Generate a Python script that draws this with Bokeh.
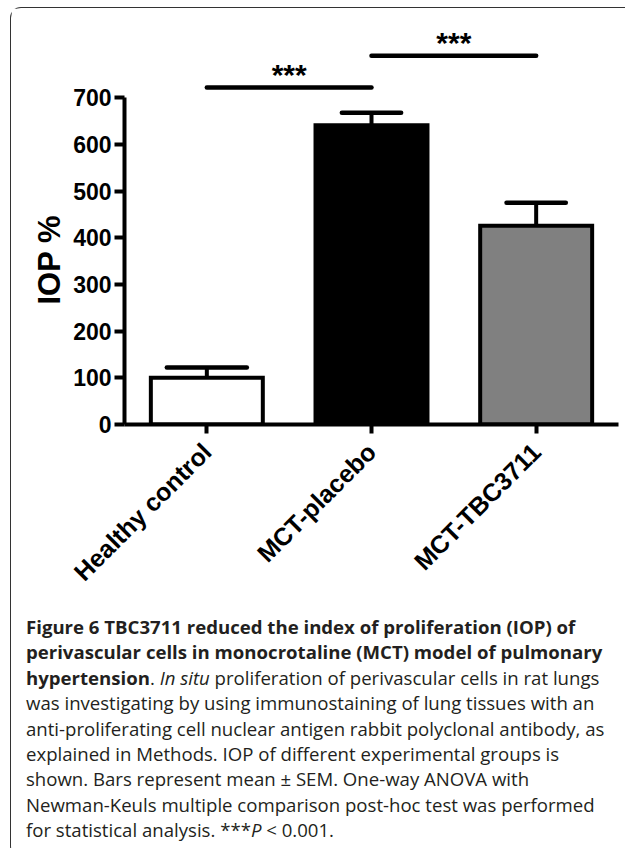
import math
from bokeh.plotting import figure
from bokeh.models import FactorRange, Range1d, Div, FixedTicker, ColumnDataSource, Title
from bokeh.layouts import column
from bokeh.embed import file_html
from bokeh.resources import INLINE
from bokeh.core.properties import value

# ---------------- data ----------------
categories = ["Healthy control", "MCT-placebo", "MCT-TBC3711"]
iop_mean = [100, 641, 426]
iop_sem = [22, 27, 49]
y_ticks = [0, 100, 200, 300, 400, 500, 600, 700]
sig_from = ["Healthy control", "MCT-placebo"]
sig_to = ["MCT-placebo", "MCT-TBC3711"]
sig_level = [722, 790]
sig_text = ["***", "***"]
y_label = "IOP %"

caption_lines = [
    "<b>Figure 6 TBC3711 reduced the index of proliferation (IOP) of</b>",
    "<b>perivascular cells in monocrotaline (MCT) model of pulmonary</b>",
    "<b>hypertension</b>. <i>In situ</i> proliferation of perivascular cells in rat lungs",
    "was investigating by using immunostaining of lung tissues with an",
    "anti-proliferating cell nuclear antigen rabbit polyclonal antibody, as",
    "explained in Methods. IOP of different experimental groups is",
    "shown. Bars represent mean \u00b1 SEM. One-way ANOVA with",
    "Newman-Keuls multiple comparison post-hoc test was performed",
    "for statistical analysis. ***<i>P</i> &lt; 0.001.",
]

# ---------------- styles ----------------
bar_fills = ["#ffffff", "#000000", "#808080"]
cap_half = [0.243, 0.18, 0.18]
FONT = "Liberation Sans"

p = figure(
    x_range=FactorRange(*categories, range_padding=0),
    y_range=Range1d(0, 870),
    frame_width=494, frame_height=406,
    min_border_left=113, min_border_right=6, min_border_top=10, min_border_bottom=185,
    output_backend="svg", toolbar_location=None,
)
p.outline_line_color = None
p.xgrid.visible = False
p.ygrid.visible = False
p.background_fill_color = "white"
p.border_fill_color = "white"

idx = [categories.index(c) + 0.5 for c in categories]
tops = [m + s for m, s in zip(iop_mean, iop_sem)]
src = ColumnDataSource(dict(cat=categories, mean=iop_mean, top=tops, fill=bar_fills,
                            cx0=[i - h for i, h in zip(idx, cap_half)],
                            cx1=[i + h for i, h in zip(idx, cap_half)]))

p.segment(x0="cat", y0="mean", x1="cat", y1="top", source=src, line_color="black", line_width=4)
p.segment(x0="cx0", y0="top", x1="cx1", y1="top", source=src, line_color="black",
          line_width=4.5, line_cap="round")
p.vbar(x="cat", top="mean", width=0.68, source=src, fill_color="fill",
       line_color="black", line_width=4, line_join="miter")

mid = [(categories.index(a) + categories.index(b)) / 2 + 0.5 for a, b in zip(sig_from, sig_to)]
p.segment(x0=sig_from, x1=sig_to, y0=sig_level, y1=sig_level, line_color="black",
          line_width=4.5, line_cap="round")
p.text(x=mid, y=sig_level, text=sig_text, text_align="center", text_baseline="alphabetic",
       y_offset=-13, text_font=value(FONT), text_font_style="bold", text_font_size="30px",
       text_color="black")

ya = p.yaxis[0]
ya.bounds = (0, 700)
ya.ticker = FixedTicker(ticks=y_ticks)
ya.axis_line_width = 4
ya.major_tick_line_width = 4
ya.major_tick_out = 10
ya.major_tick_in = 0
ya.minor_tick_line_color = None
ya.major_label_standoff = 3
ya.major_label_text_font = FONT
ya.major_label_text_font_style = "bold"
ya.major_label_text_font_size = "23px"
ya.major_label_text_color = "black"

xa = p.xaxis[0]
xa.axis_line_width = 4
xa.major_tick_line_width = 4
xa.major_tick_out = 9
xa.major_tick_in = 0
xa.major_label_standoff = 14
xa.major_label_orientation = math.pi / 4
xa.major_label_text_font = FONT
xa.major_label_text_font_style = "bold"
xa.major_label_text_font_size = "25px"
xa.major_label_text_color = "black"

p.add_layout(Title(text=y_label, align="left", offset=120, text_font=FONT,
                   text_font_style="bold", text_font_size="31px", text_color="black",
                   standoff=8), "left")

html = ("<div style=\"font-family:'Open Sans'; font-size:18.6px; line-height:25.4px; "
        "color:#231f20; white-space:nowrap; padding:0 0 0 10px;\">"
        + "<br>".join(caption_lines) + "</div>")
div = Div(text=html, width=613, height=238)

layout = column(p, div, styles={
    "margin-top": "7px",
    "margin-left": "10px",
    "border-top": "1.5px solid #333",
    "border-left": "1.5px solid #333",
    "border-radius": "11px 0 0 11px",
})

open("out.html", "w").write(file_html(layout, INLINE))
